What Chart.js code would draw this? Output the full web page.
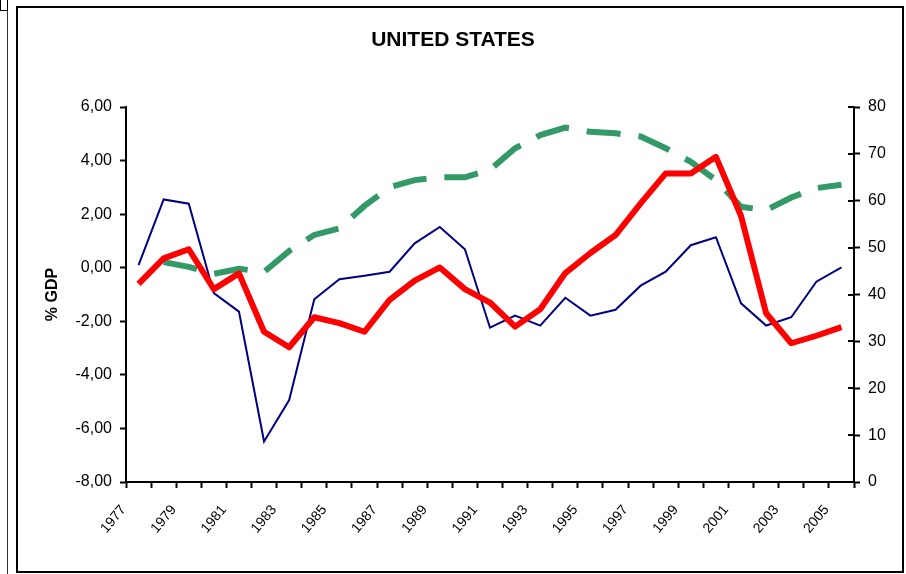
<!DOCTYPE html>
<html>
<head>
<meta charset="utf-8">
<title>UNITED STATES</title>
<script src="https://cdn.jsdelivr.net/npm/chart.js@4/dist/chart.umd.min.js"></script>
<style>
    body { margin: 0; background: #fff; }
    #wrap { position: relative; width: 906px; height: 574px; }
    #chart { position: absolute; left: 0; top: 0; }
    .frame { position: absolute; left: 16px; top: 6px; width: 884px; height: 563px; border: 2px solid #000; }
    .edge { position: absolute; left: 7px; top: 0; width: 1px; height: 574px; background: #333; }
    .corner { position: absolute; left: 0; top: 0; width: 6px; height: 10px; border-right: 1px solid #000; border-bottom: 1px solid #000; border-left: 1px solid #000; }
</style>
</head>
<body>
<div id="wrap">
    <div class="edge"></div>
    <div class="corner"></div>
    <div class="frame"></div>
    <canvas id="chart" width="906" height="574"></canvas>
</div>
<script>
const years = ['1977', '1978', '1979', '1980', '1981', '1982', '1983', '1984', '1985', '1986',
    '1987', '1988', '1989', '1990', '1991', '1992', '1993', '1994', '1995', '1996',
    '1997', '1998', '1999', '2000', '2001', '2002', '2003', '2004', '2005'];

// % GDP, left axis
const navySeries = [0.10, 2.55, 2.39, -0.95, -1.64, -6.49, -4.94, -1.18, -0.43, -0.30,
    -0.15, 0.91, 1.52, 0.69, -2.24, -1.79, -2.16, -1.12, -1.79, -1.57,
    -0.67, -0.15, 0.84, 1.14, -1.33, -2.16, -1.85, -0.52, 0.01];
const redSeries = [-0.60, 0.35, 0.69, -0.80, -0.21, -2.39, -2.97, -1.85, -2.07, -2.39,
    -1.20, -0.48, 0.01, -0.80, -1.30, -2.20, -1.55, -0.20, 0.55, 1.22,
    2.40, 3.52, 3.52, 4.14, 1.93, -1.70, -2.82, -2.54, -2.22];
// right axis
const greenSeries = [null, 46.9, 45.9, 44.4, 45.5, 44.8, 49.3, 52.7, 54.1, 58.9,
    62.9, 64.4, 65.0, 65.0, 66.6, 71.2, 74.0, 75.6, 74.7, 74.4,
    73.7, 71.2, 68.3, 64.4, 58.7, 58.0, 60.7, 62.7, 63.4];

const leftTicks = { min: -8, max: 6, step: 2 };
const rightTicks = { min: 0, max: 80, step: 10 };

const font = "'Liberation Sans', Arial, sans-serif";

// petites graduations côté intérieur de l'axe de droite
const innerTicks = {
    id: 'innerTicks',
    afterDraw(chart) {
        const scale = chart.scales.y1;
        const ctx = chart.ctx;
        ctx.save();
        ctx.strokeStyle = '#000';
        ctx.lineWidth = 2;
        scale.ticks.forEach(t => {
            const y = Math.round(scale.getPixelForValue(t.value));
            ctx.beginPath();
            ctx.moveTo(scale.left - 6, y);
            ctx.lineTo(scale.left, y);
            ctx.stroke();
        });
        ctx.restore();
    }
};

const ctx = document.getElementById('chart').getContext('2d');
new Chart(ctx, {
    type: 'line',
    data: {
        labels: years,
        datasets: [
            {
                data: redSeries,
                borderColor: '#ff0000',
                borderWidth: 6,
                borderJoinStyle: 'round',
                pointRadius: 0,
                yAxisID: 'y'
            },
            {
                data: greenSeries,
                borderColor: '#339966',
                borderWidth: 6,
                borderDash: [34, 18],
                pointRadius: 0,
                yAxisID: 'y1'
            },
            {
                data: navySeries,
                borderColor: '#000080',
                borderWidth: 2,
                pointRadius: 0,
                yAxisID: 'y'
            }
        ]
    },
    options: {
        responsive: false,
        animation: false,
        layout: { padding: 0 },
        plugins: {
            legend: { display: false },
            tooltip: { enabled: false },
            title: {
                display: true,
                text: 'UNITED STATES',
                color: '#000',
                font: { family: font, size: 21, weight: 'bold', lineHeight: 1.2 },
                padding: { top: 28, bottom: 53.8 }
            }
        },
        scales: {
            x: {
                offset: true,
                grid: { offset: true, drawOnChartArea: false, tickLength: 6, tickColor: '#000', tickWidth: 2 },
                border: { color: '#000', width: 2 },
                ticks: {
                    autoSkip: false,
                    minRotation: 50,
                    maxRotation: 50,
                    labelOffset: -15,
                    padding: 14,
                    color: '#000',
                    font: { family: font, size: 14 },
                    callback: function (value, index) {
                        return index % 2 === 0 ? this.getLabelForValue(value) : '';
                    }
                },
                afterFit: scale => { scale.height = 92; }
            },
            y: {
                position: 'left',
                min: leftTicks.min,
                max: leftTicks.max,
                grid: { drawOnChartArea: false, tickLength: 6, tickColor: '#000', tickWidth: 2 },
                border: { color: '#000', width: 2 },
                ticks: {
                    stepSize: leftTicks.step,
                    padding: 8,
                    color: '#000',
                    font: { family: font, size: 16 },
                    callback: v => v.toFixed(2).replace('.', ',')
                },
                title: {
                    display: true,
                    text: '% GDP',
                    color: '#000',
                    font: { family: font, size: 16, weight: 'bold', lineHeight: 1.2 },
                    padding: { top: 43, bottom: 0 }
                },
                afterFit: scale => { scale.width = 126; }
            },
            y1: {
                position: 'right',
                min: rightTicks.min,
                max: rightTicks.max,
                grid: { drawOnChartArea: false, tickLength: 6, tickColor: '#000', tickWidth: 2 },
                border: { color: '#000', width: 2 },
                ticks: {
                    stepSize: rightTicks.step,
                    padding: 8,
                    color: '#000',
                    font: { family: font, size: 16 }
                },
                afterFit: scale => { scale.width = 52; }
            }
        }
    },
    plugins: [innerTicks]
});
</script>
</body>
</html>
